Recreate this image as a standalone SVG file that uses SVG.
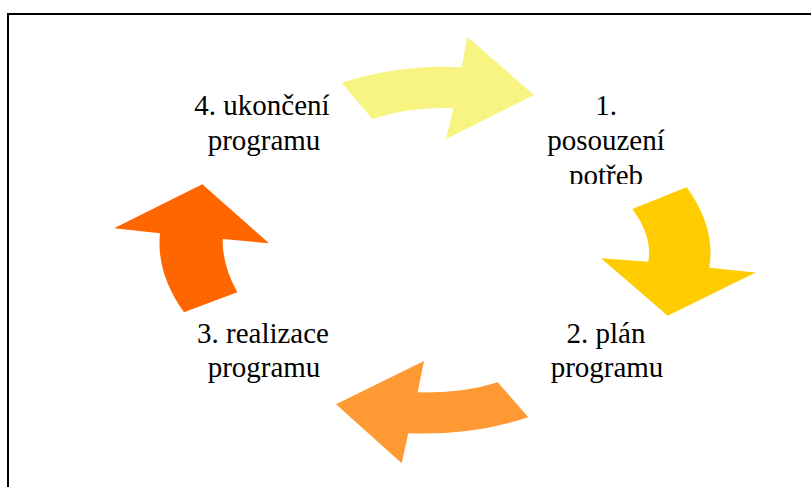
<svg xmlns="http://www.w3.org/2000/svg" width="811" height="487" viewBox="0 0 811 487">
<style>
  .lbl { font-family: 'Liberation Serif', 'Times New Roman', serif; font-size: 29px; fill: #000; text-anchor: middle; }
  .frame { fill: none; stroke: #000; stroke-width: 2; }
</style>
<defs>
  <clipPath id="clip1"><rect x="520" y="80" width="180" height="104"/></clipPath>
</defs>
<rect width="811" height="487" fill="#fff"/>
<path class="frame" d="M8,487 V14 H811"/>
<g id="connectors">
  <path id="arrow-1-top" fill="#F8F482" d="M341.7,82.7 Q401,64 461.7,67.3 L467.3,36.7 L534,95 L446,139.3 L453.3,108.3 Q413,106 372.3,119 Z"/>
  <path id="arrow-2-right" fill="#FFCC00" d="M686.7,187.3 Q716,228 709.3,267.7 L755.7,272.5 L667.7,315.7 L601,258.3 L648.3,261.7 Q652.7,236.6 632.3,209 Z"/>
  <path id="arrow-3-bottom" fill="#FF9933" d="M497.7,382.3 L528.3,417.3 Q471.7,435.7 408.3,433.3 L401.7,463.3 L336,404.3 L424,361 L417.7,392.3 Q462.3,393.7 497.7,382.3 Z"/>
  <path id="arrow-4-left" fill="#FF6600" d="M237.3,292.3 L184,312.3 Q156,273.2 160,233.3 L114,228.3 L202.3,184.3 L269,243.3 L222.7,239 Q222,264.4 237.3,292.3 Z"/>
</g>
<g id="node-1">
  <g clip-path="url(#clip1)">
    <text class="lbl" x="606" y="115">1.</text>
    <text class="lbl" x="606" y="150">posouzení</text>
    <text class="lbl" x="606" y="185">potřeb</text>
  </g>
</g>
<g id="node-2">
  <text class="lbl" x="606" y="343">2. plán</text>
  <text class="lbl" x="607" y="377">programu</text>
</g>
<g id="node-3">
  <text class="lbl" x="263" y="343">3. realizace</text>
  <text class="lbl" x="264" y="377">programu</text>
</g>
<g id="node-4">
  <text class="lbl" x="262" y="115">4. ukončení</text>
  <text class="lbl" x="264" y="150">programu</text>
</g>
</svg>
